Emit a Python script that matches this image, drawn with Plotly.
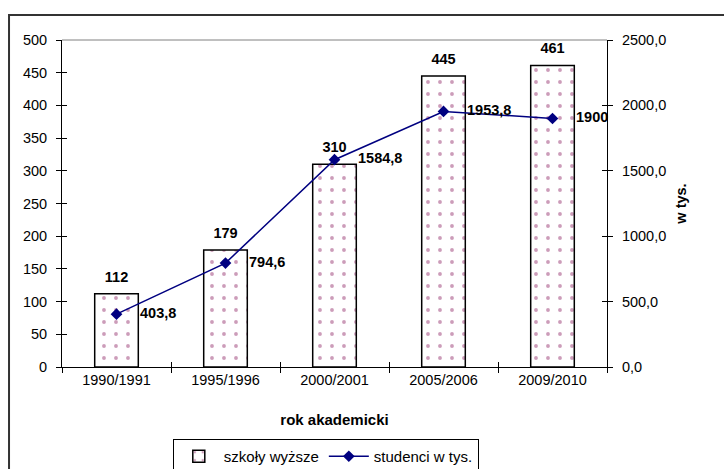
import plotly.graph_objects as go

categories = ["1990/1991", "1995/1996", "2000/2001", "2005/2006", "2009/2010"]
szkoly = [112, 179, 310, 445, 461]
studenci = [403.8, 794.6, 1584.8, 1953.8, 1900]
left_ticks = list(range(0, 501, 50))
right_ticks = list(range(0, 2501, 500))

def pl(v):
    return f"{v:g}".replace(".", ",")

FONT = "Liberation Sans, Arial, sans-serif"

fig = go.Figure()

fig.add_trace(go.Bar(
    x=categories, y=szkoly, name="szkoły wyższe",
    marker=dict(color="white",
                line=dict(color="black", width=1.5),
                pattern=dict(shape=".", fgcolor="#9a3a74", bgcolor="white",
                             size=12, solidity=0.08, fillmode="overlay")),
    width=0.4, hoverinfo="skip",
))

fig.add_trace(go.Scatter(
    x=categories, y=studenci, name="studenci w tys.", yaxis="y2",
    mode="lines+markers",
    line=dict(color="#000080", width=1.5),
    marker=dict(symbol="diamond", size=9, color="#000080"),
))

# bar value labels
fig.add_trace(go.Scatter(
    x=categories, y=szkoly, mode="markers+text",
    text=[str(v) for v in szkoly], textposition="top center",
    textfont=dict(family=FONT, size=14.5, color="black", weight="bold"),
    marker=dict(size=12, opacity=0), showlegend=False, hoverinfo="skip",
    cliponaxis=False,
))

# line value labels
fig.add_trace(go.Scatter(
    x=categories, y=studenci, yaxis="y2", mode="markers+text",
    text=[pl(v) for v in studenci], textposition="middle right",
    textfont=dict(family=FONT, size=14.5, color="black", weight="bold"),
    marker=dict(size=36, opacity=0), showlegend=False, hoverinfo="skip",
    cliponaxis=False,
))

axis_common = dict(showgrid=False, zeroline=False, linecolor="black", linewidth=1,
                   tickcolor="black", ticklen=5, tickwidth=1, automargin=False)
overlay_common = {k: v for k, v in axis_common.items() if k not in ("linecolor", "linewidth")}

fig.update_layout(
    width=724, height=469,
    margin=dict(l=62, r=117, t=40, b=102),
    paper_bgcolor="white", plot_bgcolor="white",
    separators=",.",
    font=dict(family=FONT, size=14.5, color="black"),
    showlegend=True,
    legend=dict(orientation="h", xref="container", yref="container",
                x=0.450, xanchor="center", y=0.064, yanchor="top",
                bordercolor="black", borderwidth=1, font=dict(size=15),
                traceorder="normal", itemwidth=40),
    bargap=0.6,
    xaxis=dict(type="category", categoryorder="array", categoryarray=categories,
               range=[-0.5, len(categories) - 0.5],
               ticks="outside", tickson="boundaries", showline=True,
               title=dict(text="<b>rok akademicki</b>", font=dict(size=15), standoff=27),
               **axis_common),
    xaxis2=dict(overlaying="x", side="bottom", anchor="y", type="linear",
                range=[-0.5, len(categories) - 0.5],
                tickvals=[i - 0.5 for i in range(len(categories) + 1)],
                ticks="inside", showticklabels=False, showline=False,
                **overlay_common),
    yaxis=dict(range=[0, 500], tickvals=left_ticks, ticks="outside", showline=True,
               ticklabelstandoff=6, **axis_common),
    yaxis3=dict(overlaying="y", side="left", anchor="x", range=[0, 500],
                tickvals=left_ticks, ticks="inside", showticklabels=False, showline=False,
                **overlay_common),
    yaxis2=dict(overlaying="y", side="right", anchor="x", range=[0, 2500],
                tickvals=right_ticks, tickformat=".1f", ticks="outside", showline=True,
                ticklabelstandoff=6,
                title=dict(text="<b>w tys.</b>", font=dict(size=14.5), standoff=10),
                **axis_common),
    yaxis4=dict(overlaying="y", side="right", anchor="x", range=[0, 2500],
                tickvals=right_ticks, ticks="inside", showticklabels=False, showline=False,
                **overlay_common),
    shapes=[
        dict(type="line", xref="paper", yref="paper", x0=0, x1=1, y0=1, y1=1,
             line=dict(color="#808080", width=1), layer="below"),
        dict(type="rect", xref="paper", yref="paper", x0=-0.0972, x1=1.5, y0=-1, y1=1.0765,
             line=dict(color="#333333", width=2), fillcolor="rgba(0,0,0,0)"),
    ],
)

# give overlay axes a dummy presence so they render
fig.add_trace(go.Scatter(x=[None], y=[None], xaxis="x2", yaxis="y3", showlegend=False, hoverinfo="skip"))
fig.add_trace(go.Scatter(x=[None], y=[None], xaxis="x2", yaxis="y4", showlegend=False, hoverinfo="skip"))

fig.write_html("out.html")
